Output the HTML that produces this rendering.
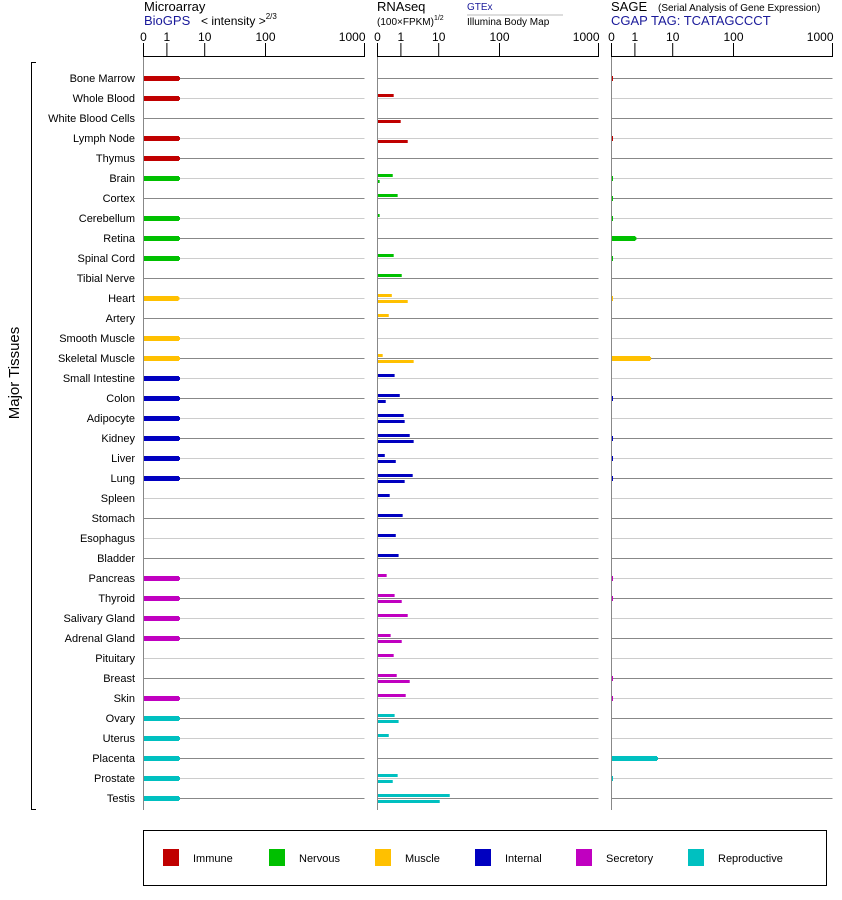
<!DOCTYPE html>
<html><head><meta charset="utf-8">
<style>
html,body{margin:0;padding:0;background:#fff;}
svg{display:block;font-family:"Liberation Sans",sans-serif;}
</style></head>
<body>
<svg id="chart" width="842" height="900" viewBox="0 0 842 900" xmlns="http://www.w3.org/2000/svg">
<g>
<text x="144" y="11" font-size="13">Microarray</text>
<text x="144" y="25" font-size="13" fill="#1a1a9a">BioGPS</text>
<text x="201" y="25" font-size="12">&lt; intensity &gt;<tspan font-size="8" dy="-6">2/3</tspan></text>
<text x="377" y="11" font-size="13">RNAseq</text>
<text x="377" y="25" font-size="10">(100×FPKM)<tspan font-size="7" dy="-5">1/2</tspan></text>
<text x="467" y="10" font-size="10" fill="#1a1a9a">GTEx</text>
<line x1="467" y1="15" x2="563" y2="15" stroke="#bbb" stroke-width="1"/>
<text x="467" y="25" font-size="10">Illumina Body Map</text>
<text x="611" y="11" font-size="13">SAGE</text>
<text x="658" y="11" font-size="10">(Serial Analysis of Gene Expression)</text>
<text x="611" y="25" font-size="13" fill="#1a1a9a">CGAP TAG: TCATAGCCCT</text>
</g>
<g>
<line x1="31.5" y1="62" x2="31.5" y2="810" stroke="#000"/>
<line x1="31" y1="62.5" x2="36" y2="62.5" stroke="#000"/>
<line x1="31" y1="809.5" x2="36" y2="809.5" stroke="#000"/>
<text transform="translate(19,373) rotate(-90)" text-anchor="middle" font-size="15">Major Tissues</text>
</g>
<g id="plot"></g>
<g>
<rect x="143.5" y="830.5" width="683" height="55" fill="none" stroke="#000"/>
<g id="legend-items"></g>
</g>
</svg>
<script>
const tissues = ["Bone Marrow","Whole Blood","White Blood Cells","Lymph Node","Thymus","Brain","Cortex","Cerebellum","Retina","Spinal Cord","Tibial Nerve","Heart","Artery","Smooth Muscle","Skeletal Muscle","Small Intestine","Colon","Adipocyte","Kidney","Liver","Lung","Spleen","Stomach","Esophagus","Bladder","Pancreas","Thyroid","Salivary Gland","Adrenal Gland","Pituitary","Breast","Skin","Ovary","Uterus","Placenta","Prostate","Testis"];
const groups = [0,0,0,0,0,1,1,1,1,1,1,2,2,2,2,3,3,3,3,3,3,3,3,3,3,4,4,4,4,4,4,4,5,5,5,5,5];
const groupNames = ["Immune","Nervous","Muscle","Internal","Secretory","Reproductive"];
const groupColors = ["#c00000","#00c000","#ffc000","#0000c0","#c000c0","#00c0c0"];
const microarray = [2.15,2.15,0,2.15,2.15,2.15,0,2.15,2.15,2.15,0,2.08,0,2.15,2.15,2.15,2.15,2.15,2.15,2.15,2.15,0,0,0,0,2.15,2.15,2.15,2.15,0,0,2.15,2.15,2.15,2.15,2.15,2.15];
const gtex = [0,0.67,0,0,0,0.63,0.84,0.07,0,0.67,1.02,0.59,0.46,0,0.2,0.71,0.93,1.15,1.66,0.29,1.99,0.5,1.08,0.76,0.88,0.37,0.71,1.47,0.54,0.67,0.8,1.3,0.71,0.46,0,0.84,14.9];
const illumina = [0,0,0.97,1.47,0,0.07,0,0,0,0,0,1.47,0,0,2.11,0,0.33,1.22,2.11,0.76,1.22,0,0,0,0,0,1.02,0,1.02,0,1.66,0,0.88,0,0,0.63,10.2];
const sage = [0.06,0,0,0.06,0,0.06,0.06,0.06,1.06,0.06,0,0.06,0,0,2.6,0,0.06,0,0.06,0.06,0.06,0,0,0,0,0.06,0.06,0,0,0,0.06,0.06,0,0,3.96,0.06,0];
const tickValues = [0,1,10,100,1000];
const tickLabels = ["0","1","10","100","1000"];

const NS = "http://www.w3.org/2000/svg";
const plot = document.getElementById('plot');
const tickOffsets = [0,23.4,61.2,122,221];
function scale(v){
  if(v<=0) return 0;
  if(v<=1) return v*tickOffsets[1];
  const l=Math.log10(v);
  const i=Math.min(3,Math.floor(l)+1);
  const f=l-(i-1);
  return tickOffsets[i]+f*(tickOffsets[i+1]-tickOffsets[i]);
}
const row0=78, rowStep=20;
function yPos(i){return row0+i*rowStep;}
function mk(tag,attrs,parent){const e=document.createElementNS(NS,tag);for(const k in attrs)e.setAttribute(k,attrs[k]);(parent||plot).appendChild(e);return e;}

const panels=[{x0:143.5,name:'microarray'},{x0:377.5,name:'rnaseq'},{x0:611.5,name:'sage'}];
panels.forEach(p=>{
  const g=mk('g',{});
  
  
  // axis
  const ax=mk('g',{},g);
  
  
  mk('line',{x1:p.x0,y1:56.5,x2:p.x0+221,y2:56.5,stroke:'#000'},ax);
  tickValues.forEach((v,k)=>{
    const x=p.x0+scale(v);
    mk('line',{x1:x,y1:43,x2:x,y2:57,stroke:'#000'},ax);
    const t=mk('text',{x:k===4?x+1:x,y:41,'font-size':12,'text-anchor':k===4?'end':'middle'},ax);
    
    
    t.textContent=tickLabels[k];
  });
  mk('line',{x1:p.x0,y1:57,x2:p.x0,y2:810,stroke:'#888'},g);
  tissues.forEach((t,i)=>{
    const y=yPos(i)+0.5;
    mk('line',{x1:p.x0+0.5,y1:y,x2:p.x0+221,y2:y,stroke:i%2===0?'#888':'#ccc'},g);
  });
});
// labels
tissues.forEach((t,i)=>{
  const e=mk('text',{x:135,y:yPos(i)+4,'font-size':11,'text-anchor':'end'});
  
  
  e.textContent=t;
});
function thickBar(x0,v,i,col){
  const w=scale(v); if(w<=0) return;
  const y=yPos(i);
  const r=mk('rect',{x:x0,y:y-2,width:Math.max(w-1,1),height:5,fill:col});
  
  
  if(w>3) mk('rect',{x:x0+w-1.5,y:y-1,width:1.5,height:3,fill:col});
}
tissues.forEach((t,i)=>{
  const col=groupColors[groups[i]];
  thickBar(144,microarray[i],i,col);
  const wg=scale(gtex[i]);
  if(wg>0){const r=mk('rect',{x:378,y:yPos(i)-4,width:wg,height:3,fill:col});
    
    }
  const wi=scale(illumina[i]);
  if(wi>0){const r=mk('rect',{x:378,y:yPos(i)+2,width:wi,height:3,fill:col});
    
    }
  thickBar(612,sage[i],i,col);
});
// legend
const lg=document.getElementById('legend-items');
const legX=[163,269,375,475,576,688];
groupNames.forEach((n,k)=>{
  const g=mk('g',{},lg);
  
  
  mk('rect',{x:legX[k],y:849,width:16,height:17,fill:groupColors[k]},g);
  const t=mk('text',{x:legX[k]+30,y:862,'font-size':11},g);
  t.textContent=n;
});
</script>
</body></html>
